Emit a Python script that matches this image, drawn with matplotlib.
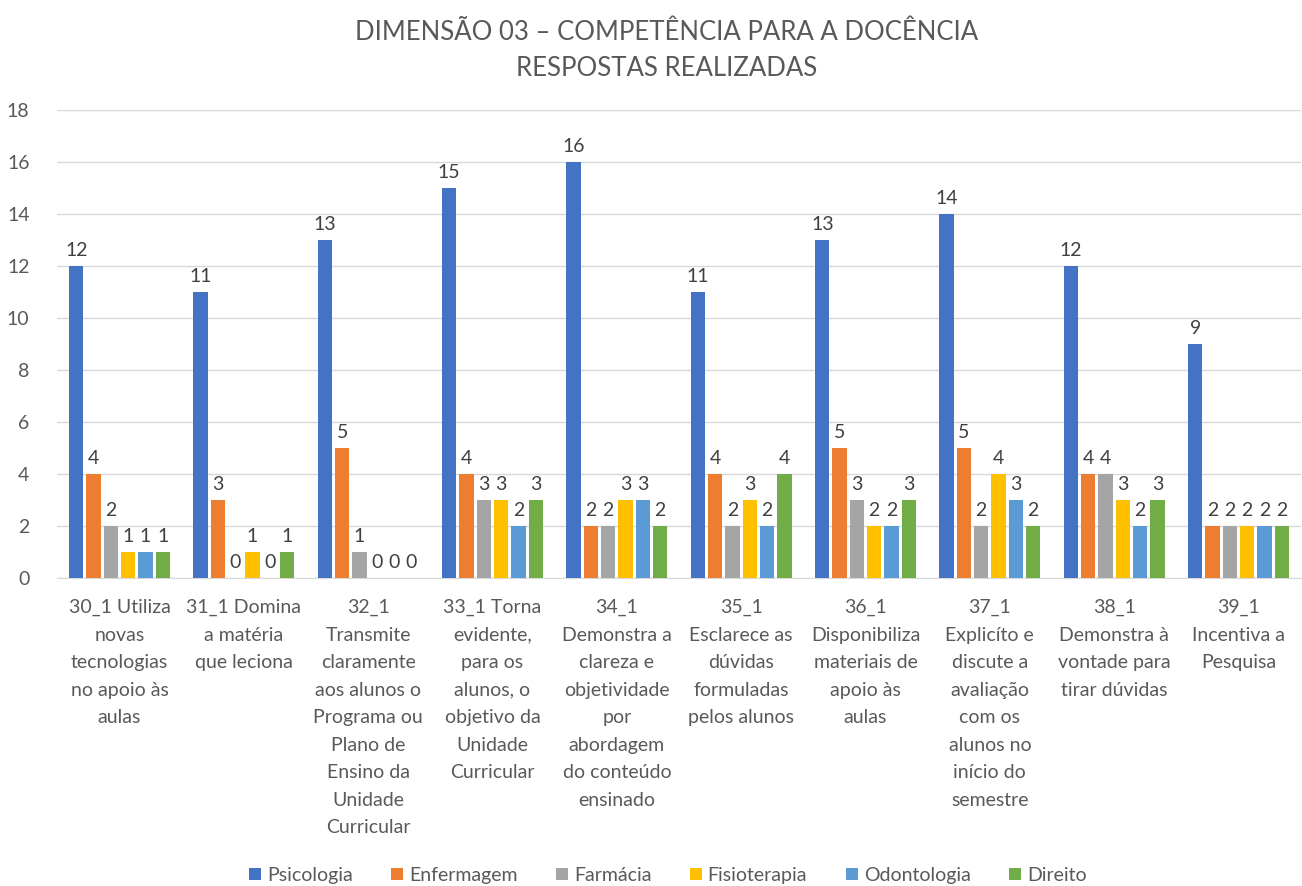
import matplotlib
matplotlib.use("Agg")
import matplotlib.pyplot as plt
import numpy as np

plt.rcParams['font.family'] = ['Lato', 'DejaVu Sans']

categories = [
    "30_1 Utiliza\nnovas\ntecnologias\nno apoio às\naulas",
    "31_1 Domina\na matéria\nque leciona",
    "32_1\nTransmite\nclaramente\naos alunos o\nPrograma ou\nPlano de\nEnsino da\nUnidade\nCurricular",
    "33_1 Torna\nevidente,\npara os\nalunos, o\nobjetivo da\nUnidade\nCurricular",
    "34_1\nDemonstra a\nclareza e\nobjetividade\npor\nabordagem\ndo conteúdo\nensinado",
    "35_1\nEsclarece as\ndúvidas\nformuladas\npelos alunos",
    "36_1\nDisponibiliza\nmateriais de\napoio às\naulas",
    "37_1\nExplicíto e\ndiscute a\navaliação\ncom os\nalunos no\ninício do\nsemestre",
    "38_1\nDemonstra à\nvontade para\ntirar dúvidas",
    "39_1\nIncentiva a\nPesquisa",
]
series_names = ["Psicologia", "Enfermagem", "Farmácia", "Fisioterapia", "Odontologia", "Direito"]
psicologia   = [12, 11, 13, 15, 16, 11, 13, 14, 12, 9]
enfermagem   = [4, 3, 5, 4, 2, 4, 5, 5, 4, 2]
farmacia     = [2, 0, 1, 3, 2, 2, 3, 2, 4, 2]
fisioterapia = [1, 1, 0, 3, 3, 3, 2, 4, 3, 2]
odontologia  = [1, 0, 0, 2, 3, 2, 2, 3, 2, 2]
direito      = [1, 1, 0, 3, 2, 4, 3, 2, 3, 2]
series = [psicologia, enfermagem, farmacia, fisioterapia, odontologia, direito]
colors = ["#4472C4", "#ED7D31", "#A5A5A5", "#FFC000", "#5B9BD5", "#70AD47"]

fig = plt.figure(figsize=(13.02, 8.86), dpi=100)
ax = fig.add_axes([0.044, 0.3476, 0.955, 0.5282])

x = np.arange(len(categories))
slot = 0.139
bw = 0.115
txtc = "#595959"
for i, (name, vals, c) in enumerate(zip(series_names, series, colors)):
    xs = x + (i - 2.5) * slot
    ax.bar(xs, vals, width=bw, color=c, label=name, zorder=3)
    for xi, v in zip(xs, vals):
        ax.annotate(str(v), (xi, v), xytext=(0, 5), textcoords="offset points",
                    ha="center", va="bottom", fontsize=14, color="#404040")

ax.set_xlim(-0.5, len(categories) - 0.5)
ax.set_ylim(0, 18)
ax.set_yticks(np.arange(0, 19, 2))
ax.yaxis.grid(True, color="#D9D9D9", linewidth=1, zorder=0)
ax.set_axisbelow(True)
for s in ["top", "right", "left"]:
    ax.spines[s].set_visible(False)
ax.spines["bottom"].set_color("#D9D9D9")
ax.tick_params(axis="both", length=0, labelsize=14, colors=txtc)
ax.tick_params(axis="y", pad=20)
ax.set_xticks(x)
ax.set_xticklabels(categories, linespacing=1.75, va="top")
ax.tick_params(axis="x", pad=15)

fig.text(0.512, 0.963, "DIMENSÃO 03 – COMPETÊNCIA PARA A DOCÊNCIA", ha="center", va="center",
         fontsize=18.5, color=txtc)
fig.text(0.512, 0.923, "RESPOSTAS REALIZADAS", ha="center", va="center",
         fontsize=18.5, color=txtc)

fig.legend(loc="center", bbox_to_anchor=(0.513, 0.012), ncol=6, frameon=False,
           fontsize=14, handlelength=0.6, handleheight=0.6, handletextpad=0.3,
           columnspacing=2.0, labelcolor=txtc)

fig.savefig("out.png", dpi=100)
